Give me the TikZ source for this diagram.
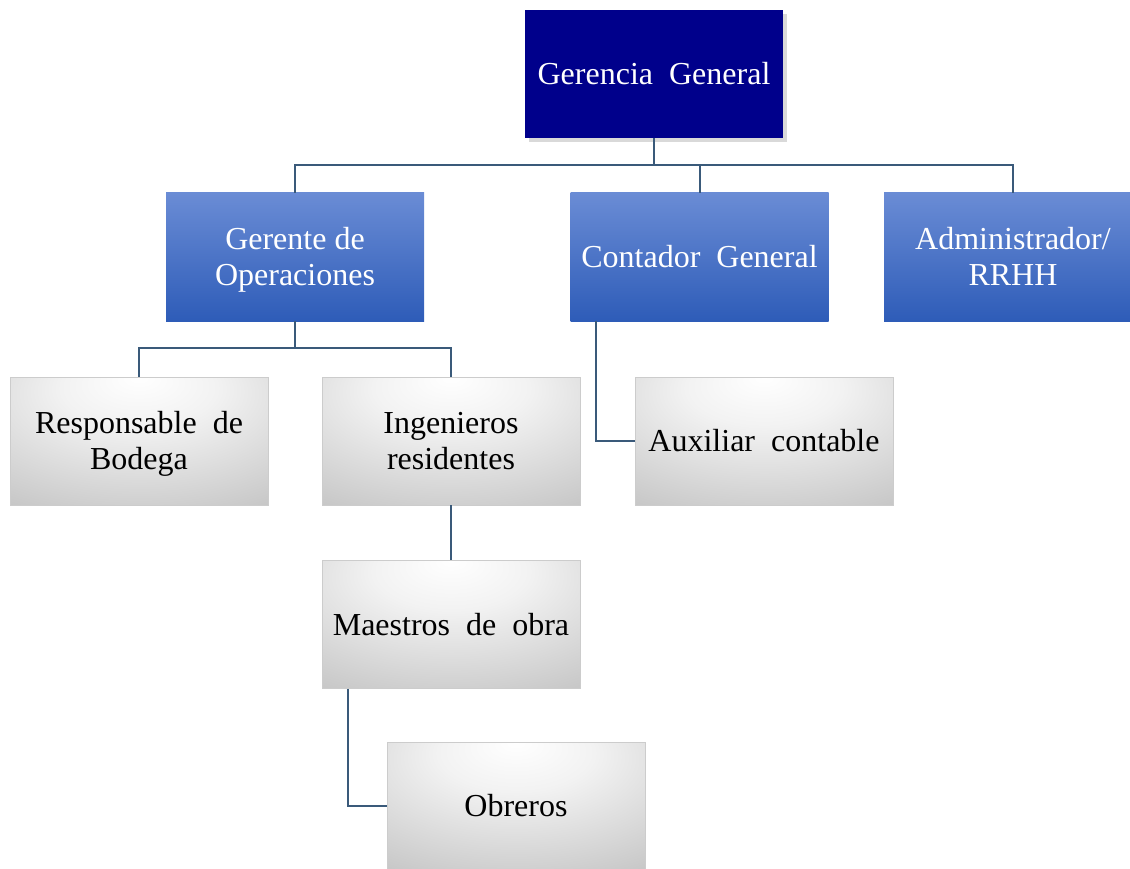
\documentclass[tikz,border=0pt]{standalone}
\usepackage{fontspec}
\setmainfont{Liberation Serif}
\usetikzlibrary{shadows,calc}
\definecolor{navy}{HTML}{00008B}
\definecolor{bluetop}{HTML}{6A8CD5}
\definecolor{bluebot}{HTML}{2E5CB8}
\definecolor{conn}{HTML}{3A5A7A}
\pgfdeclareradialshading{grayglow}{\pgfpoint{0bp}{25bp}}{color(0bp)=(white); color(15bp)=(white!95!black); color(45bp)=(white!78!black); color(90bp)=(white!58!black)}
\newcommand{\twol}[2]{\begin{tabular}{@{}c@{}}\rule{0pt}{31.2pt}#1\\#2\end{tabular}}
\tikzset{
  box/.style={minimum width=258pt, minimum height=128pt, inner sep=0pt, align=center,
    font=\fontsize{32}{36}\selectfont},
  topbox/.style={box, fill=navy, text=white, drop shadow={shadow xshift=4pt, shadow yshift=-4pt, opacity=0.3}},
  bluebox/.style={box, top color=bluetop, bottom color=bluebot, text=white},
  graybox/.style={box, shading=grayglow, draw=white!80!black, line width=0.6pt, text=black},
  link/.style={draw=conn, line width=2pt}
}
\begin{document}
\begin{tikzpicture}[x=1pt,y=-1pt]
\useasboundingbox (0,0) rectangle (1130,869);
\node[topbox] (gg) at (654,74) {Gerencia\ \ General};
\node[bluebox] (go) at (295,257) {\twol{Gerente de}{Operaciones}};
\node[bluebox] (cg) at (699.5,257) {Contador\ \ General};
\node[bluebox] (adm) at (1013,257) {\twol{Administrador/}{RRHH}};
\node[graybox] (rb) at (139,441) {\twol{Responsable\ \ de}{Bodega}};
\node[graybox] (ir) at (451,441) {\twol{Ingenieros}{residentes}};
\node[graybox] (aux) at (764,441) {Auxiliar\ \ contable};
\node[graybox] (mo) at (451,624.5) {Maestros\ \ de\ \ obra};
\node[graybox] (ob) at (516,806) {Obreros};
\coordinate (bus) at (654,165);
\coordinate (bus2) at (295,348);
\draw[link] (gg.south) -- (bus);
\draw[link] (go.north) -- (go.north |- bus) -- (adm.north |- bus) -- (adm.north);
\draw[link] (cg.north) -- (cg.north |- bus);
\draw[link] (go.south) -- (bus2);
\draw[link] (rb.north) -- (rb.north |- bus2) -- (ir.north |- bus2) -- (ir.north);
\draw[link] ([xshift=-103.5pt]cg.south) |- (aux.west);
\draw[link] (ir.south) -- (mo.north);
\draw[link] ([xshift=-103pt]mo.south) |- (ob.west);
\end{tikzpicture}
\end{document}
